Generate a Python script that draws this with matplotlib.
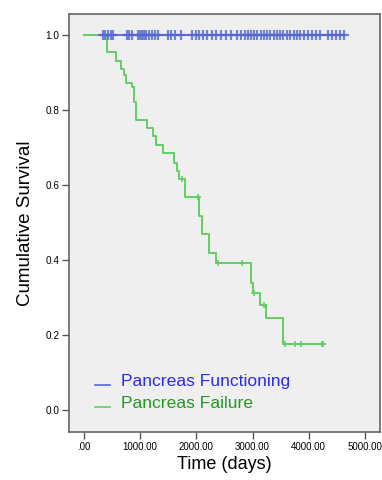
import numpy as np
import matplotlib
matplotlib.use("Agg")
from matplotlib import pyplot as plt
from matplotlib.lines import Line2D
from matplotlib.legend_handler import HandlerLine2D

# Kaplan-Meier steps
fail_times = [0, 409, 569, 658, 712, 747, 854, 890, 925, 1121, 1228, 1281, 1406,
              1601, 1655, 1690, 1797, 2046, 2100, 2224, 2350, 2972, 3007, 3132,
              3238, 3541]
fail_surv = [1.0, 0.955, 0.931, 0.909, 0.893, 0.872, 0.861, 0.821, 0.773, 0.752,
             0.731, 0.707, 0.685, 0.659, 0.637, 0.616, 0.568, 0.517, 0.469, 0.419,
             0.392, 0.339, 0.312, 0.280, 0.245, 0.176]
fail_censor = [1744, 2028, 2384, 2811, 3025, 3203, 3577, 3754, 3861, 4235, 4253]

func_censor = [338, 374, 427, 480, 516, 765, 801, 854, 961, 996, 1032, 1068, 1103,
               1157, 1210, 1263, 1317, 1495, 1548, 1619, 1726, 1922, 1993, 2046,
               2117, 2189, 2278, 2349, 2438, 2527, 2616, 2722, 2794, 2865, 2918,
               2972, 3025, 3078, 3149, 3203, 3256, 3310, 3381, 3434, 3488, 3541,
               3612, 3665, 3737, 3790, 3843, 3915, 3986, 4057, 4128, 4199, 4342,
               4413, 4484, 4555, 4626]

xticks = [0, 1000, 2000, 3000, 4000, 5000]
xticklabels = [".00", "1000.00", "2000.00", "3000.00", "4000.00", "5000.00"]
yticks = [0.0, 0.2, 0.4, 0.6, 0.8, 1.0]
labels = ["Pancreas Functioning", "Pancreas Failure"]

blue_line = "#5368cf"
green_line = "#63cf63"
blue_text = "#2b2bf0"
green_text = "#239a23"


class LowLine(HandlerLine2D):
    # SPSS draws the legend key like an underscore
    def create_artists(self, legend, orig, xdescent, ydescent, width, height, fontsize, trans):
        arts = super().create_artists(legend, orig, xdescent, ydescent, width, height, fontsize, trans)
        for a in arts:
            a.set_ydata(np.asarray(a.get_ydata()) - 0.4 * height)
        return arts


plt.rcParams['font.family'] = ['Liberation Sans', 'DejaVu Sans']

fig = plt.figure(figsize=(3.82, 4.8), dpi=100)
ax = fig.add_axes([0.1806, 0.1, 0.814, 0.871])
ax.set_facecolor("#efefef")

# functioning group: flat at 1.0, censored throughout
ax.step([0, func_censor[-1]], [1.0, 1.0], where="post", color=blue_line, lw=1.3, zorder=2)

# failure group
fx = fail_times + [fail_censor[-1]]
fy = fail_surv + [fail_surv[-1]]
ax.step(fx, fy, where="post", color=green_line, lw=1.4, zorder=3)

idx = np.searchsorted(fail_times, fail_censor, side="right") - 1
ax.plot(fail_censor, np.array(fail_surv)[idx], "+", color=green_line, ms=5, mew=1.2, zorder=4)
ax.plot(func_censor, np.ones(len(func_censor)), "+", color=blue_line, ms=6.5, mew=1.6,
        alpha=0.8, zorder=5)

ax.set_xlim(-267, 5267)
ax.set_ylim(-0.059, 1.056)
ax.set_xticks(xticks)
ax.set_xticklabels(xticklabels, fontsize=7)
ax.set_yticks(yticks)
ax.set_yticklabels(["%.1f" % v for v in yticks], fontsize=7.2)
ax.tick_params(direction="out", length=5, width=1, color="#555555", pad=2)

for s in ax.spines.values():
    s.set_color("#666666")
    s.set_linewidth(1.2)

ax.set_xlabel("Time (days)", fontsize=13, labelpad=3)
ax.set_ylabel("Cumulative Survival", fontsize=13.5, labelpad=8)

handles = [Line2D([], [], color=blue_line, lw=1.2), Line2D([], [], color=green_line, lw=1.2)]
leg = ax.legend(handles, labels, loc="lower left", bbox_to_anchor=(0.085, 0.05),
                frameon=False, fontsize=12.6, handlelength=0.85, handletextpad=0.6,
                labelspacing=0.4, borderaxespad=0, borderpad=0,
                handler_map={Line2D: LowLine()})
for t, c in zip(leg.get_texts(), [blue_text, green_text]):
    t.set_color(c)

fig.savefig("out.png", dpi=100)
